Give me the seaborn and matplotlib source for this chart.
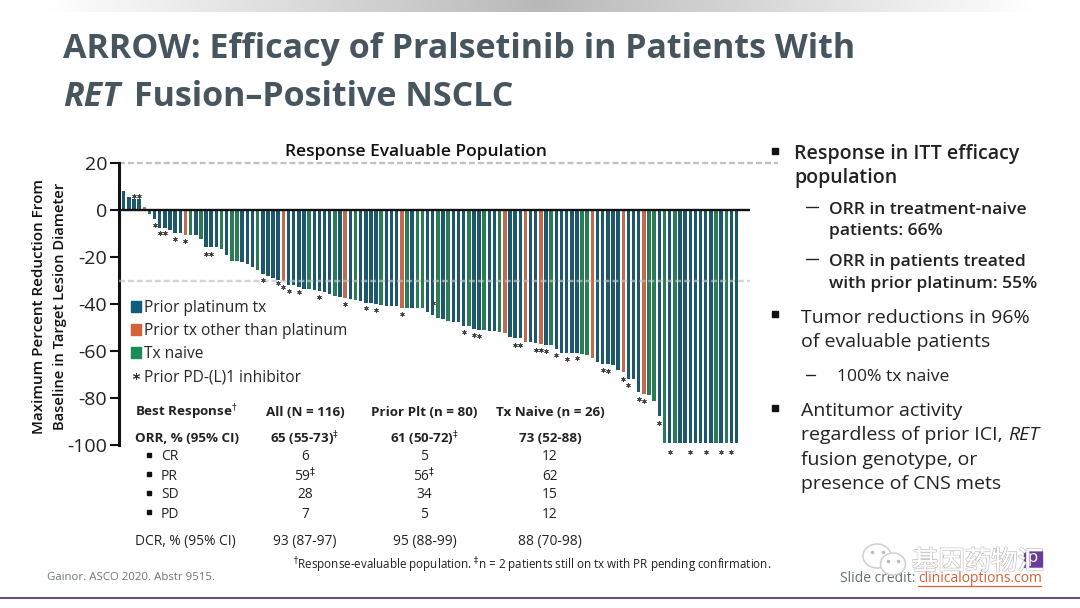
import matplotlib
matplotlib.use('Agg')
import matplotlib.pyplot as plt
import matplotlib.patheffects as pe
from matplotlib.lines import Line2D
from matplotlib.patches import Ellipse, Patch, Rectangle
import numpy as np
import seaborn as sns

# best change from baseline per patient, left to right
values = [8, 5.8, 5, 5, 1.4, -1.7, -3.8, -7.4, -7.7, -8.5,
          -9.5, -9.8, -10.5, -10.5, -10.5, -12.2, -15.5, -15.5, -15.6, -16.5,
          -18.9, -21.5, -21.5, -22, -23, -24, -25.5, -27, -28, -29,
          -29.5, -30, -31.8, -32, -32.6, -33.5, -33.6, -33.8, -34.3, -34.9,
          -35.5, -36.5, -37, -37.2, -37.9, -38.3, -38.7, -39.3, -39.7, -40,
          -40.4, -40.6, -40.7, -41, -41.7, -41.7, -41.7, -41.8, -41.8, -43.3,
          -44.8, -45.7, -46.4, -47.1, -47.5, -47.8, -49.2, -49.5, -50.6, -50.9,
          -51, -51.3, -51.6, -52, -52.5, -53.9, -54.5, -54.6, -56.3, -56.3,
          -56.7, -57, -57.3, -57.4, -59.1, -60.7, -61, -61, -61, -61.4,
          -61.8, -63.1, -64.7, -65.5, -65.7, -65.8, -67.9, -69, -71.9, -71.9,
          -77.6, -78.3, -78.6, -81.4, -87.5, -99, -99, -99, -99, -99,
          -99, -99, -99, -99, -99, -99, -99, -99, -99, -99]
orange_bars = [4, 12, 31, 43, 54, 74, 78, 81, 91, 97, 101]
green_bars = [5, 13, 15, 19, 21, 22, 26, 36, 41, 45, 50, 55, 57, 58, 61, 63,
              67, 70, 73, 83, 89, 90, 102, 103, 105, 107, 115, 117]
# asterisks: bar number and level
star_bars = [2, 3, 6, 7, 8, 10, 12, 16, 17, 27, 30, 31, 32, 34, 38, 43, 47, 49,
             54, 60, 66, 68, 69, 76, 77, 80, 81, 82, 84, 86, 88, 93, 94, 97, 98,
             100, 101, 104, 106, 110, 113, 116, 118]
star_levels = [6.2, 6.2, -6.2, -9.9, -9.9, -12.3, -12.9, -18.6, -18.6, -29.6,
               -31.2, -32.9, -34.3, -34.9, -36.9, -39.9, -41.6, -42.3, -44, -39.4,
               -52, -53.2, -53.6, -57.3, -57.2, -59.4, -59.7, -60, -61.7, -63.3,
               -63.1, -67.9, -68.4, -71.9, -74.3, -80.6, -81.4, -90.5, -102.8,
               -102.8, -102.8, -102.8, -102.8]

groups = ['Prior platinum tx', 'Prior tx other than platinum', 'Tx naive']
colors = ['#0f5d7a', '#d5603a', '#1c8a55']

DAG = r'$^{\dagger}$'
DDAG = r'$^{\ddag}$'
table_rows = ['Best Response' + DAG, 'ORR, % (95% CI)', 'CR', 'PR', 'SD', 'PD', 'DCR, % (95% CI)']
table_all = ['All (N = 116)', '65 (55-73)' + DDAG, '6', '59' + DDAG, '28', '7', '93 (87-97)']
table_plt = ['Prior Plt (n = 80)', '61 (50-72)' + DDAG, '5', '56' + DDAG, '34', '5', '95 (88-99)']
table_naive = ['Tx Naive (n = 26)', '73 (52-88)', '12', '62', '15', '12', '88 (70-98)']

sns.set_style('white')
plt.rcParams['font.family'] = ['Open Sans', 'DejaVu Sans']
plt.rcParams['axes.unicode_minus'] = False

W, H = 1080, 608
fig = plt.figure(figsize=(W / 100, H / 100), dpi=100)

# chart axes placed on the slide
left, right, top, bottom = 119, 750, 163.3, 445
ax = fig.add_axes([left / W, 1 - bottom / H, (right - left) / W, (bottom - top) / H])

idx = list(range(len(values)))
hue = [groups[1] if i in orange_bars else groups[2] if i in green_bars else groups[0] for i in idx]
sns.barplot(x=idx, y=values, hue=hue, hue_order=groups, palette=colors, dodge=False,
            width=0.68, legend=False, ax=ax, edgecolor='none', linewidth=0)
ax.set_xlim(-0.91, 121.6)
ax.set_ylim(-100, 20)
ax.set_xticks([])
ax.set_yticks([20, 0, -20, -40, -60, -80, -100])
ax.tick_params(axis='y', left=True, length=6.5, width=1.5, color='#111111',
               labelsize=14, labelcolor='#222222', pad=2)
ax.set_xlabel('')
ax.set_ylabel('')
sns.despine(ax=ax, top=True, right=True, bottom=True)
ax.spines['left'].set_linewidth(2.2)
ax.spines['left'].set_color('#111111')
ax.axhline(0, color='#111111', lw=1.7, zorder=5)
ax.plot([-0.91, 127], [20, 20], color='#c2c2c2', lw=1.7, ls=(0, (2.5, 1.3)), clip_on=False)
ax.axhline(-30, color='#c2c2c2', lw=1.7, ls=(0, (2.5, 1.3)), alpha=0.7, zorder=4)
ax.scatter(star_bars, star_levels, marker=(6, 2, 0), s=9, lw=0.5, color='#444444',
           clip_on=False, zorder=6)

handles = [Patch(color=c, label=g) for c, g in zip(colors, groups)]
handles.append(Line2D([], [], ls='none', marker=(6, 2, 0), ms=5, mew=0.7, color='#333333',
                      label='Prior PD-(L)1 inhibitor'))
ax.legend(handles=handles, loc='upper left', bbox_to_anchor=(128 / W, 1 - 297 / H),
          bbox_transform=fig.transFigure, frameon=False, fontsize=11.2, labelspacing=0.45,
          handlelength=0.65, handleheight=0.65, handletextpad=0.2, borderpad=0.2,
          borderaxespad=0, labelcolor='#262626')

# everything else on the slide is in pixel coordinates
ov = fig.add_axes([0, 0, 1, 1], zorder=10)
ov.axis('off')
ov.patch.set_alpha(0)

# gradient band at the top
band = np.abs(np.linspace(-1, 1, 400))
ov.imshow(np.vstack([band, band]), extent=[40, 1040, 12.5, 0], cmap='gray', vmin=-2.6, vmax=1,
          aspect='auto', zorder=0)
ov.set_xlim(0, W)
ov.set_ylim(H, 0)

TITLE = '#47555f'
ov.text(63, 49, 'ARROW: Efficacy of Pralsetinib in Patients With', fontsize=24.5,
        weight='bold', color=TITLE, va='center')
ov.text(63, 97, 'RET', fontsize=24.5, weight='bold', style='italic', color=TITLE, va='center')
ov.text(134, 97, 'Fusion–Positive NSCLC', fontsize=24.5, weight='bold', color=TITLE, va='center')

ov.text(416, 152, 'Response Evaluable Population', fontsize=12.5, weight='semibold',
        color='#111111', ha='center', va='center')
ov.text(39, 306, 'Maximum Percent Reduction From', fontsize=11, weight='semibold', rotation=90,
        color='#111111', ha='center', va='center')
ov.text(60, 306, 'Baseline in Target Lesion Diameter', fontsize=10.6, weight='semibold', rotation=90,
        color='#111111', ha='center', va='center')

# response table
row_y = [412, 439, 457, 476, 495, 514, 541]
col_x = [305, 424.5, 550]
for r, (name, y) in enumerate(zip(table_rows, row_y)):
    bold = r < 2
    w = 'bold' if bold else 'normal'
    size = 9.6 if bold else 9.9
    if 2 <= r <= 5:
        ov.plot([149], [y - 2], marker='s', ms=3, color='#111111', ls='none')
        ov.text(161, y, name, fontsize=size, color='#222222', va='center')
    else:
        ov.text(135, y, name, fontsize=size, weight=w, color='#222222', va='center')
    for x, col in zip(col_x, [table_all, table_plt, table_naive]):
        ov.text(x, y, col[r], fontsize=size, weight=w, color='#222222', ha='center', va='center')

ov.text(293, 565, DAG + 'Response-evaluable population. ' + DDAG
        + 'n = 2 patients still on tx with PR pending confirmation.',
        fontsize=8.4, color='#222222', va='center')
ov.text(47, 578, 'Gainor. ASCO 2020. Abstr 9515.', fontsize=8.2, color='#6f7478', va='center')

# right hand bullets
for y in [151, 314, 408]:
    ov.plot([775], [y], marker='s', ms=4.5, color='#111111', ls='none')
for x0, x1, y in [(806, 818, 207), (806, 818, 259), (806, 815, 375)]:
    ov.plot([x0, x1], [y, y], color='#222222', lw=1)
for text, x, y, size, w in [
    ('Response in ITT efficacy', 794, 154, 14, 'semibold'),
    ('population', 794, 178, 14, 'semibold'),
    ('ORR in treatment-naive', 829, 210, 12.6, 'semibold'),
    ('patients: 66%', 829, 231, 12.6, 'semibold'),
    ('ORR in patients treated', 829, 262, 12.6, 'semibold'),
    ('with prior platinum: 55%', 829, 284, 12.6, 'semibold'),
    ('Tumor reductions in 96%', 801, 318, 14, 'normal'),
    ('of evaluable patients', 801, 342, 14, 'normal'),
    ('100% tx naive', 837, 377, 12.6, 'normal'),
    ('Antitumor activity', 801, 411, 14, 'normal'),
    ('regardless of prior ICI, ', 801, 435, 14, 'normal'),
    ('fusion genotype, or', 801, 460, 14, 'normal'),
    ('presence of CNS mets', 801, 484, 14, 'normal'),
]:
    ov.text(x, y, text, fontsize=size, weight=w, color='#222222', va='center')
ov.text(1008, 435, 'RET', fontsize=14, style='italic', color='#222222', va='center')

# footer and watermark
ov.plot([0, W], [597.5, 597.5], color='#5d3c70', lw=1.3)
ov.text(840, 578, 'Slide credit:', fontsize=10, color='#666e75', va='center')
ov.text(918, 578, 'clinicaloptions.com', fontsize=10, color='#d5603a', va='center')
ov.plot([918, 1041], [586, 586], color='#d5603a', lw=0.9)
ov.add_patch(Rectangle((1024, 551), 18, 16, color='#6a3d9a', zorder=2))
ov.text(1033, 558.5, 'p', fontsize=12, color='white', ha='center', va='center', zorder=3)
ov.add_patch(Ellipse((877, 556), 28, 24, fc='white', ec='#cfcfcf', lw=1.1, zorder=3))
ov.add_patch(Ellipse((893, 564), 25, 22, fc='white', ec='#cfcfcf', lw=1.1, zorder=3))
ov.plot([872, 883, 888, 898], [552, 552, 561, 561], ls='none', marker='o', ms=1.5, color='#bbbbbb', zorder=4)
ov.text(912, 562, '基因药物汇', fontsize=19, color='white', va='center', zorder=4,
        family=['Noto Sans CJK SC', 'DejaVu Sans'],
        path_effects=[pe.withStroke(linewidth=1.1, foreground='#bdbdbd'), pe.Normal()])

fig.savefig('out.png', dpi=100)
